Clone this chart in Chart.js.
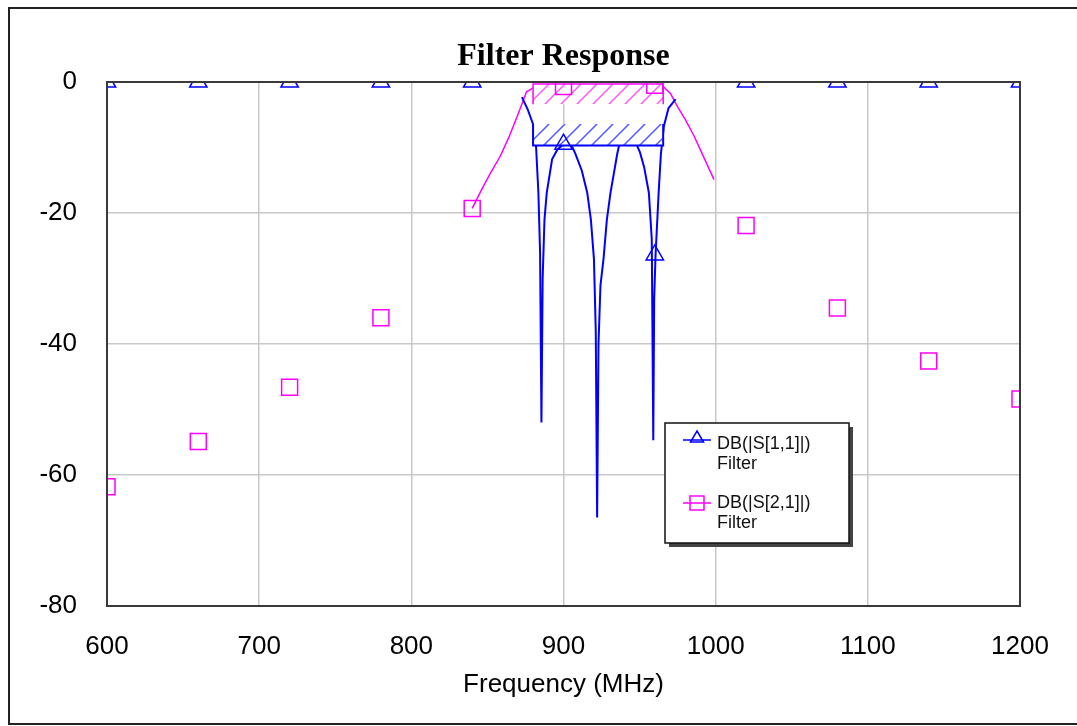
<!DOCTYPE html>
<html>
<head>
<meta charset="utf-8">
<script src="https://cdn.jsdelivr.net/npm/chart.js@4.4.1/dist/chart.umd.min.js"></script>
<style>
  html, body { margin: 0; padding: 0; background: #fff; }
  #wrap { width: 1077px; height: 726px; position: relative; }
</style>
</head>
<body>
<div id="wrap"><canvas id="grafico"></canvas></div>
<script>
// Marcadores (a cada 60 MHz)
const markerFreq = [600, 660, 720, 780, 840, 900, 960, 1020, 1080, 1140, 1200];
const s11Marker = [0, 0, 0, 0, 0, -9.5, -26.4, 0, 0, 0, 0];
const s21Marker = [-61.8, -54.9, -46.6, -36, -19.3, -0.7, -0.5, -21.9, -34.5, -42.6, -48.4];

// Curva S11 (banda passante)
const s11Freq = [872.7, 876.5, 880.4, 882, 883.5, 884.6, 885.5, 886.3, 887.5, 889, 892.5, 896, 900, 903, 906,
  907.9, 912, 915.6, 918, 920, 921.2, 922.1, 923, 924.3, 926.3, 928.5, 930.9, 935.3, 937, 942, 947,
  950.2, 953, 956.1, 958, 959, 959.6, 960.5, 962.5, 964, 966, 969, 973.7];
const s11Db = [-2.3, -4.2, -6.7, -10, -16.9, -26, -52, -30, -21, -16.9, -11.8, -10.3, -9.5, -9.3, -10,
  -11, -13.5, -16.9, -21, -27, -38, -66.5, -40, -31, -27, -21, -16.9, -11, -9.2, -7.8, -9,
  -10.7, -13, -16.9, -24, -54.7, -33, -26.4, -17, -11, -6.7, -4, -2.6];

// Curva S21
const s21Freq = [840, 846, 852, 858.5, 864, 870, 875.7, 880, 890, 900, 920, 940, 960, 966, 970.4, 975, 980, 985.7, 992, 998.9];
const s21Db = [-19.3, -16.5, -13.9, -11.3, -8.5, -5, -1.5, -0.9, -0.8, -0.7, -0.5, -0.4, -0.5, -0.8, -1.8, -3.8, -5.7, -8.2, -11.4, -14.9];

// Metas (faixa de frequência, limite, fim da hachura)
const s21GoalFreq = [880, 965.5];
const s21GoalDb = [-0.3, -3.4];
const s11GoalFreq = [880, 965.5];
const s11GoalDb = [-9.7, -6.4];

const xTicks = [600, 700, 800, 900, 1000, 1100, 1200];
const yTicks = [-80, -60, -40, -20, 0];

const BLUE = '#0000ff';
const MAGENTA = '#ff00ff';
const SANS = '"Liberation Sans", Arial, sans-serif';

function pts(xs, ys) {
  return xs.map((x, i) => ({ x: x, y: ys[i] }));
}

function hatchBox(ctx, x0, x1, yTop, yBot, color, alpha) {
  ctx.save();
  ctx.fillStyle = '#fff';
  ctx.fillRect(x0, yTop, x1 - x0, yBot - yTop);
  ctx.beginPath();
  ctx.rect(x0, yTop, x1 - x0, yBot - yTop);
  ctx.clip();
  ctx.strokeStyle = color;
  ctx.globalAlpha = alpha;
  ctx.lineWidth = 1.5;
  const h = yBot - yTop;
  for (let x = x0 - h; x < x1 + h; x += 16) {
    ctx.beginPath();
    ctx.moveTo(x, yBot);
    ctx.lineTo(x + h, yTop);
    ctx.stroke();
  }
  ctx.restore();
}

function drawGoals(chart) {
  const ctx = chart.ctx;
  const xs = chart.scales.x, ys = chart.scales.y;

  // meta S21
  let x0 = xs.getPixelForValue(s21GoalFreq[0]), x1 = xs.getPixelForValue(s21GoalFreq[1]);
  let yl = ys.getPixelForValue(s21GoalDb[0]), yh = ys.getPixelForValue(s21GoalDb[1]);
  hatchBox(ctx, x0, x1, yl, yh, MAGENTA, 0.65);
  ctx.save();
  ctx.strokeStyle = MAGENTA;
  ctx.lineWidth = 1.5;
  ctx.beginPath();
  ctx.moveTo(x0, yh); ctx.lineTo(x0, yl); ctx.lineTo(x1, yl); ctx.lineTo(x1, yh);
  ctx.stroke();
  ctx.restore();

  // meta S11
  x0 = xs.getPixelForValue(s11GoalFreq[0]); x1 = xs.getPixelForValue(s11GoalFreq[1]);
  yl = ys.getPixelForValue(s11GoalDb[0]); yh = ys.getPixelForValue(s11GoalDb[1]);
  hatchBox(ctx, x0, x1, yh, yl, BLUE, 0.65);
  ctx.save();
  ctx.strokeStyle = BLUE;
  ctx.lineWidth = 2;
  ctx.beginPath();
  ctx.moveTo(x0, yh); ctx.lineTo(x0, yl); ctx.lineTo(x1, yl); ctx.lineTo(x1, yh);
  ctx.stroke();
  ctx.restore();
}

const extras = {
  id: 'extras',
  afterDatasetDraw(chart, args) {
    // as metas ficam por cima das curvas e por baixo dos marcadores
    if (chart.data.datasets[args.index].label === 'S11 line') drawGoals(chart);
  },
  afterDatasetsDraw(chart) {
    const ctx = chart.ctx;
    const a = chart.chartArea;
    ctx.save();
    ctx.strokeStyle = '#3a3a3a';
    ctx.lineWidth = 2;
    ctx.strokeRect(a.left, a.top, a.right - a.left, a.bottom - a.top);
    ctx.restore();
  },
  afterDraw(chart) {
    const ctx = chart.ctx;
    const a = chart.chartArea;
    ctx.save();
    // título
    ctx.fillStyle = '#000';
    ctx.font = 'bold 32px "Liberation Serif", "Times New Roman", serif';
    ctx.textAlign = 'center';
    ctx.textBaseline = 'alphabetic';
    ctx.fillText('Filter Response', (a.left + a.right) / 2, 65);

    // moldura externa
    ctx.strokeStyle = '#222';
    ctx.lineWidth = 2;
    ctx.beginPath();
    ctx.moveTo(1080, 8); ctx.lineTo(9, 8); ctx.lineTo(9, 724); ctx.lineTo(1080, 724);
    ctx.stroke();

    // legenda
    const lx = 665, ly = 423, lw = 184, lh = 120;
    ctx.fillStyle = '#444';
    ctx.fillRect(lx + 4, ly + 4, lw, lh);
    ctx.fillStyle = '#fff';
    ctx.fillRect(lx, ly, lw, lh);
    ctx.strokeStyle = '#111';
    ctx.lineWidth = 1.5;
    ctx.strokeRect(lx, ly, lw, lh);

    ctx.lineWidth = 1.5;
    ctx.strokeStyle = BLUE;
    ctx.beginPath();
    ctx.moveTo(683, 440); ctx.lineTo(711, 440);
    ctx.moveTo(697, 431); ctx.lineTo(703.5, 442); ctx.lineTo(690.5, 442); ctx.closePath();
    ctx.stroke();
    ctx.strokeStyle = MAGENTA;
    ctx.beginPath();
    ctx.moveTo(683, 503); ctx.lineTo(711, 503);
    ctx.rect(690, 496, 14, 14);
    ctx.stroke();

    ctx.fillStyle = '#111';
    ctx.font = '18px ' + SANS;
    ctx.textBaseline = 'middle';
    ctx.textAlign = 'left';
    ctx.fillText('DB(|S[1,1]|)', 717, 444);
    ctx.fillText('Filter', 717, 464);
    ctx.fillText('DB(|S[2,1]|)', 717, 503);
    ctx.fillText('Filter', 717, 523);
    ctx.restore();
  }
};

const ctx = document.getElementById('grafico').getContext('2d');
new Chart(ctx, {
  type: 'scatter',
  data: {
    datasets: [
      {
        label: 'S11 line',
        data: pts(s11Freq, s11Db),
        order: 2,
        showLine: true,
        borderColor: BLUE,
        borderWidth: 2,
        pointRadius: 0,
        tension: 0
      },
      {
        label: 'S21 line',
        data: pts(s21Freq, s21Db),
        order: 3,
        showLine: true,
        borderColor: MAGENTA,
        borderWidth: 1.5,
        pointRadius: 0,
        tension: 0
      },
      {
        label: 'S11 markers',
        data: pts(markerFreq, s11Marker),
        order: 0,
        showLine: false,
        pointStyle: 'triangle',
        pointRadius: 10,
        pointBorderWidth: 1.5,
        borderColor: BLUE,
        backgroundColor: 'rgba(0,0,0,0)',
        clip: 0
      },
      {
        label: 'S21 markers',
        data: pts(markerFreq, s21Marker),
        order: 1,
        showLine: false,
        pointStyle: 'rect',
        pointRadius: 11.3,
        pointBorderWidth: 1.5,
        borderColor: MAGENTA,
        backgroundColor: 'rgba(0,0,0,0)',
        clip: 0
      }
    ]
  },
  options: {
    responsive: true,
    maintainAspectRatio: false,
    animation: false,
    events: [],
    layout: { padding: { left: 0, right: 57, top: 82, bottom: 0 } },
    plugins: {
      legend: { display: false },
      tooltip: { enabled: false },
      title: { display: false }
    },
    scales: {
      x: {
        type: 'linear',
        min: 600,
        max: 1200,
        afterBuildTicks: s => { s.ticks = xTicks.map(v => ({ value: v })); },
        afterFit: s => { s.height = 120; },
        grid: { color: '#c8c8c8', lineWidth: 1.5, drawTicks: false },
        border: { display: false },
        ticks: {
          color: '#000',
          padding: 25,
          maxRotation: 0,
          callback: v => String(v),
          font: { family: SANS, size: 26 }
        },
        title: {
          display: true,
          text: 'Frequency (MHz)',
          color: '#000',
          font: { family: SANS, size: 26 },
          padding: { top: 0, bottom: 26 }
        }
      },
      y: {
        type: 'linear',
        min: -80,
        max: 0,
        afterBuildTicks: s => { s.ticks = yTicks.map(v => ({ value: v })); },
        afterFit: s => { s.width = 107; },
        grid: { color: '#c8c8c8', lineWidth: 1.5, drawTicks: false },
        border: { display: false },
        ticks: {
          color: '#000',
          padding: 30,
          callback: v => String(v),
          font: { family: SANS, size: 26 }
        }
      }
    }
  },
  plugins: [extras]
});
</script>
</body>
</html>
